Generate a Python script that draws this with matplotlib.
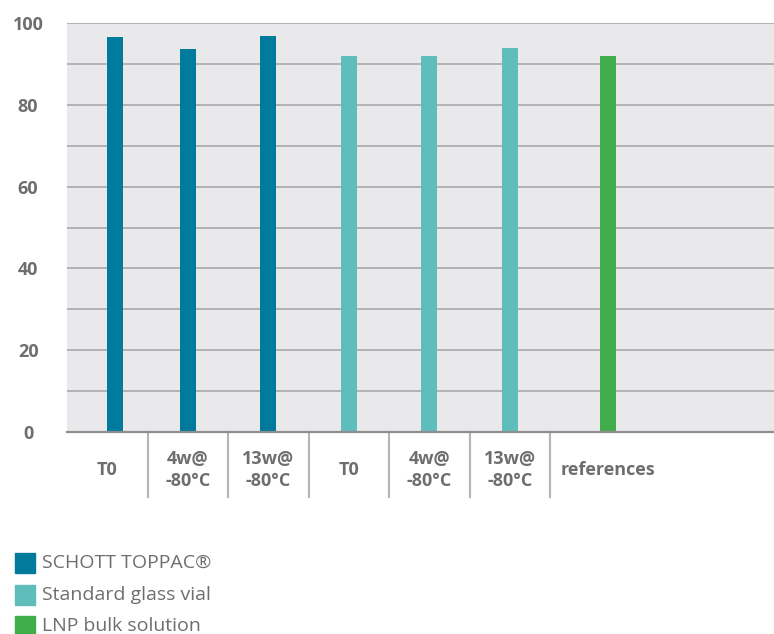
import matplotlib.pyplot as plt
import matplotlib.patches as mpatches
import numpy as np

# zeta potential / encapsulation values per sample
categories = ["T0", "4w@\n-80°C", "13w@\n-80°C", "T0", "4w@\n-80°C", "13w@\n-80°C", "references"]
values = [96.5, 93.6, 96.8, 91.9, 91.9, 93.9, 91.9]
groups = ["SCHOTT TOPPAC®", "SCHOTT TOPPAC®", "SCHOTT TOPPAC®",
          "Standard glass vial", "Standard glass vial", "Standard glass vial",
          "LNP bulk solution"]
group_colors = {
    "SCHOTT TOPPAC®": "#007b9b",
    "Standard glass vial": "#5fbdbb",
    "LNP bulk solution": "#3fae4a",
}
yticks = [0, 20, 40, 60, 80, 100]

text_grey = "#6e6e6e"
plt.rcParams['font.family'] = ['Open Sans', 'DejaVu Sans']

fig = plt.figure(figsize=(7.74, 6.34), dpi=100)
ax = fig.add_axes([67 / 774, 1 - 432 / 634, 707 / 774, 409 / 634])
ax.set_facecolor("#e9e9ec")

pos = np.arange(len(categories)) + 0.5
pos[0] += 0.1
pos[-1] += 0.22
bar_colors = [group_colors[g] for g in groups]
ax.bar(pos, values, width=0.2, color=bar_colors, zorder=3)

ax.set_xlim(0, 707 / 80.5)
ax.set_ylim(0, 100)
for y in range(10, 101, 10):
    ax.axhline(y, color="#a9a9ab", lw=1.2, zorder=1)

for s in ["top", "right", "left"]:
    ax.spines[s].set_visible(False)
ax.spines["bottom"].set_color("#8e8e8e")
ax.spines["bottom"].set_linewidth(1.6)
ax.spines["bottom"].set_zorder(4)

ax.set_yticks(yticks)
ax.set_yticklabels([str(t) for t in yticks], fontsize=13, fontweight="bold", color=text_grey)
ax.tick_params(axis="y", length=0, pad=28)
ax.tick_params(axis="x", length=0)
ax.set_xticks([])
for lab in ax.get_yticklabels():
    lab.set_horizontalalignment("center")

# category labels and separators under the axis
trans = ax.get_xaxis_transform()
label_x = list(np.arange(6) + 0.5) + [pos[-1]]
for x, lab in zip(label_x, categories):
    ax.text(x, -0.093, lab, transform=trans, ha="center", va="center",
            fontsize=13, fontweight="bold", color=text_grey, linespacing=1.25)
for b in range(1, 7):
    ax.plot([b, b], [0, -0.159], transform=trans, color="#b4b4b4", lw=1.5,
            clip_on=False)

# legend
leg_rows = [(563, "SCHOTT TOPPAC®"), (595, "Standard glass vial"), (626, "LNP bulk solution")]
for y, name in leg_rows:
    fig.patches.append(mpatches.Rectangle((15 / 774, 1 - (y + 10) / 634), 20 / 774, 20 / 634,
                                          transform=fig.transFigure,
                                          color=group_colors[name]))
    fig.text(42 / 774, 1 - y / 634, name, ha="left", va="center",
             fontsize=14, color=text_grey)

fig.savefig("out.png", dpi=100)
